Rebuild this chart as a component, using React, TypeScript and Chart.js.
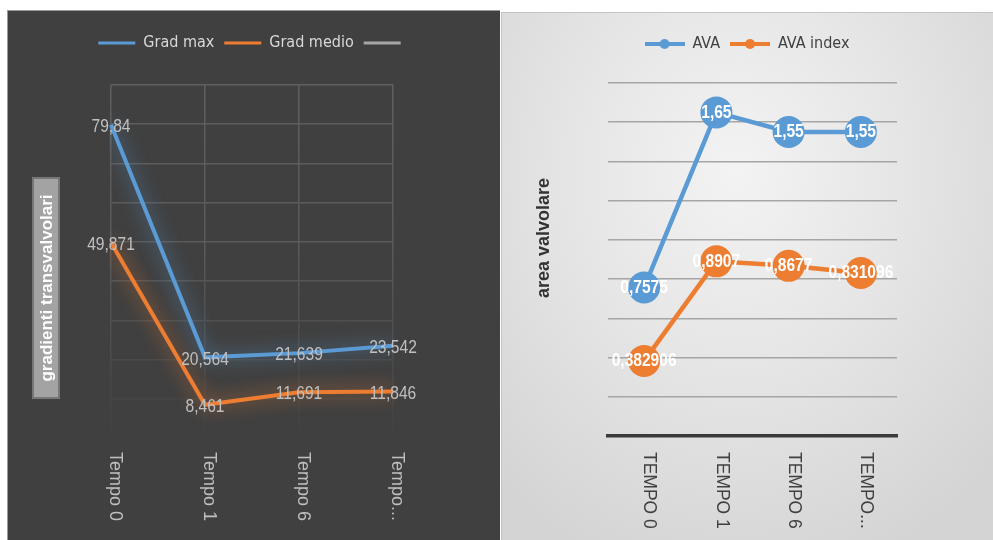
import React, { useEffect, useRef } from "react";
import { Chart, registerables } from "chart.js";

Chart.register(...registerables);

// ---- Gradienti transvalvolari ----
const gradCategories = ["Tempo 0", "Tempo 1", "Tempo 6", "Tempo..."];
const gradMax = [79.84, 20.564, 21.639, 23.542];
const gradMedio = [49.871, 8.461, 11.691, 11.846];
const gradThird: number[] = [];
const gradAxisMin = 0;
const gradAxisMax = 90;
const gradAxisStep = 10;

// ---- Area valvolare ----
const areaCategories = ["TEMPO 0", "TEMPO 1", "TEMPO 6", "TEMPO..."];
const ava = [0.7575, 1.65, 1.55, 1.55];
const avaIndex = [0.382906, 0.8907, 0.8677, 0.831096];
const areaAxisMin = 0;
const areaAxisMax = 1.8;
const areaAxisStep = 0.2;

const BLUE = "#5B9BD5";
const ORANGE = "#ED7D31";
const GRAY = "#A5A5A5";

const CONDENSED = '"DejaVu Sans Condensed", "Liberation Sans", sans-serif';
const REGULAR = '"Liberation Sans", Arial, sans-serif';

const fmt = (v: number) => String(v).replace(".", ",");

// Soft coloured halo behind each line
const glowPlugin = {
  id: "glow",
  beforeDatasetDraw(chart: any, args: any) {
    const ds = chart.data.datasets[args.index];
    const ctx = chart.ctx;
    ctx.save();
    if (ds.glowColor) {
      ctx.shadowColor = ds.glowColor;
      ctx.shadowBlur = 18;
    }
  },
  afterDatasetDraw(chart: any) {
    chart.ctx.restore();
  },
};

// Value labels centred on each point (squeezed horizontally for a narrow face)
const valueLabels = (font: string, color: string, dy: number, squeeze: number) => ({
  id: "valueLabels",
  afterDatasetsDraw(chart: any) {
    const ctx = chart.ctx;
    ctx.save();
    ctx.font = font;
    ctx.fillStyle = color;
    ctx.textAlign = "center";
    ctx.textBaseline = "middle";
    chart.data.datasets.forEach((ds: any, i: number) => {
      const meta = chart.getDatasetMeta(i);
      meta.data.forEach((el: any, j: number) => {
        const v = ds.data[j];
        if (v == null) return;
        ctx.save();
        ctx.translate(el.x, el.y + dy);
        ctx.scale(squeeze, 1);
        ctx.fillText(fmt(v), 0, 0);
        ctx.restore();
      });
    });
    ctx.restore();
  },
});

// Category labels written top-to-bottom under the axis
const verticalTicks = (font: string, color: string, dx: number, gap: number) => ({
  id: "verticalTicks",
  afterDraw(chart: any) {
    const ctx = chart.ctx;
    const xs = chart.scales.x;
    ctx.save();
    ctx.font = font;
    ctx.fillStyle = color;
    ctx.textAlign = "left";
    ctx.textBaseline = "middle";
    (chart.data.labels as string[]).forEach((lab, i) => {
      const px = xs.getPixelForValue(i);
      ctx.save();
      ctx.translate(px + dx, chart.chartArea.bottom + gap);
      ctx.rotate(Math.PI / 2);
      ctx.fillText(lab, 0, 0);
      ctx.restore();
    });
    ctx.restore();
  },
});

// Rotated axis title, optionally on a boxed background
const axisTitle = (
  text: string,
  cx: number,
  cy: number,
  font: string,
  color: string,
  box?: { w: number; h: number; fill: string; stroke: string }
) => ({
  id: "axisTitle",
  afterDraw(chart: any) {
    const ctx = chart.ctx;
    ctx.save();
    if (box) {
      ctx.fillStyle = box.fill;
      ctx.fillRect(cx - box.w / 2, cy - box.h / 2, box.w, box.h);
      ctx.strokeStyle = box.stroke;
      ctx.lineWidth = 2;
      ctx.strokeRect(cx - box.w / 2, cy - box.h / 2, box.w, box.h);
    }
    ctx.translate(cx, cy);
    ctx.rotate(-Math.PI / 2);
    ctx.font = font;
    ctx.fillStyle = color;
    ctx.textAlign = "center";
    ctx.textBaseline = "middle";
    ctx.fillText(text, 0, 1);
    ctx.restore();
  },
});

const spacer = (axis: "x" | "y", position: string, size: number) => ({
  axis,
  position,
  display: true,
  grid: { display: false, drawTicks: false },
  border: { display: false },
  ticks: { display: false },
  afterFit(s: any) {
    if (axis === "x") s.height = size;
    else s.width = size;
  },
});

function legendMarker(color: string) {
  const c = document.createElement("canvas");
  c.width = 40;
  c.height = 12;
  const g = c.getContext("2d")!;
  g.strokeStyle = color;
  g.lineWidth = 4;
  g.beginPath();
  g.moveTo(0, 6);
  g.lineTo(40, 6);
  g.stroke();
  g.fillStyle = color;
  g.beginPath();
  g.arc(20, 6, 5, 0, Math.PI * 2);
  g.fill();
  return c;
}

// Grid fades out towards the bottom of the plot
function gridGradient(c: any) {
  const chart = c.chart;
  const a = chart.chartArea;
  if (!a) return "#5c5c5c";
  const g = chart.ctx.createLinearGradient(0, a.top, 0, a.bottom);
  g.addColorStop(0, "#5f5f5f");
  g.addColorStop(0.45, "#5a5a5a");
  g.addColorStop(0.85, "#474747");
  g.addColorStop(1, "#414141");
  return g;
}

function GradientChart() {
  const ref = useRef<HTMLCanvasElement>(null);
  useEffect(() => {
    const chart = new Chart(ref.current!, {
      type: "line",
      data: {
        labels: gradCategories,
        datasets: [
          {
            label: "Grad max",
            data: gradMax,
            borderColor: BLUE,
            backgroundColor: BLUE,
            borderWidth: 4,
            pointRadius: 0,
            tension: 0,
            glowColor: "rgba(91,155,213,0.8)",
          } as any,
          {
            label: "Grad medio",
            data: gradMedio,
            borderColor: ORANGE,
            backgroundColor: ORANGE,
            borderWidth: 4,
            pointRadius: 0,
            tension: 0,
            glowColor: "rgba(237,125,49,0.8)",
          } as any,
          {
            label: "",
            data: gradThird,
            borderColor: GRAY,
            backgroundColor: GRAY,
            borderWidth: 4,
            pointRadius: 0,
          } as any,
        ],
      },
      options: {
        responsive: false,
        animation: false,
        layout: { padding: { top: 15, left: 0, right: 0, bottom: 0 } },
        plugins: {
          tooltip: { enabled: false },
          legend: {
            display: true,
            position: "top",
            labels: {
              color: "#d9d9d9",
              font: { family: CONDENSED, size: 16 },
              boxWidth: 37,
              boxHeight: 3,
              padding: 10,
              generateLabels(ch: any) {
                return Chart.defaults.plugins.legend.labels
                  .generateLabels(ch)
                  .map((it: any) => ({ ...it, fillStyle: it.strokeStyle, lineWidth: 0 }));
              },
            },
          },
        },
        scales: {
          x: {
            type: "category",
            offset: false,
            grid: {
              display: true,
              drawTicks: false,
              lineWidth: 1.5,
              color: gridGradient,
            },
            border: { display: false },
            ticks: { display: false },
            afterFit(s: any) {
              s.height = 102;
            },
          },
          y: {
            type: "linear",
            min: gradAxisMin,
            max: gradAxisMax,
            grid: {
              display: true,
              drawTicks: false,
              lineWidth: 1.5,
              color: gridGradient,
            },
            border: { display: false },
            ticks: { display: false, stepSize: gradAxisStep },
            afterFit(s: any) {
              s.width = 104;
            },
          },
          xTop: spacer("x", "top", 24) as any,
          yRight: spacer("y", "right", 107) as any,
        },
      },
      plugins: [
        glowPlugin,
        valueLabels(`19px ${REGULAR}`, "#c0c0c0", 2, 0.82),
        verticalTicks(`18px ${REGULAR}`, "#bfbfbf", 4, 14),
        axisTitle("gradienti transvalvolari", 39, 278, `bold 17px ${REGULAR}`, "#ffffff", {
          w: 26,
          h: 220,
          fill: "#a3a3a3",
          stroke: "#777777",
        }),
      ],
    } as any);
    return () => chart.destroy();
  }, []);
  return <canvas ref={ref} width={493} height={530} style={{ display: "block" }} />;
}

function AreaChart() {
  const ref = useRef<HTMLCanvasElement>(null);
  useEffect(() => {
    const markers: Record<string, HTMLCanvasElement> = {
      AVA: legendMarker(BLUE),
      "AVA index": legendMarker(ORANGE),
    };
    const chart = new Chart(ref.current!, {
      type: "line",
      data: {
        labels: areaCategories,
        datasets: [
          {
            label: "AVA",
            data: ava,
            borderColor: BLUE,
            backgroundColor: BLUE,
            borderWidth: 4.5,
            pointRadius: 16,
            pointBorderWidth: 0,
            pointBackgroundColor: BLUE,
            tension: 0,
          },
          {
            label: "AVA index",
            data: avaIndex,
            borderColor: ORANGE,
            backgroundColor: ORANGE,
            borderWidth: 4.5,
            pointRadius: 16,
            pointBorderWidth: 0,
            pointBackgroundColor: ORANGE,
            tension: 0,
          },
        ],
      },
      options: {
        responsive: false,
        animation: false,
        layout: { padding: { top: 14, left: 0, right: 0, bottom: 0 } },
        plugins: {
          tooltip: { enabled: false },
          legend: {
            display: true,
            position: "top",
            labels: {
              color: "#404040",
              font: { family: CONDENSED, size: 16 },
              usePointStyle: true,
              pointStyleWidth: 40,
              padding: 10,
              generateLabels(ch: any) {
                return Chart.defaults.plugins.legend.labels
                  .generateLabels(ch)
                  .map((it: any) => ({ ...it, pointStyle: markers[it.text] }));
              },
            },
          },
        },
        scales: {
          x: {
            type: "category",
            offset: true,
            grid: { display: false, drawTicks: false },
            border: { display: true, color: "#3a3a3a", width: 3.5 },
            ticks: { display: false },
            afterFit(s: any) {
              s.height = 104;
            },
          },
          y: {
            type: "linear",
            min: areaAxisMin,
            max: areaAxisMax,
            grid: {
              display: true,
              drawTicks: false,
              lineWidth: 1.5,
              color: (c: any) => (c.tick && c.tick.value === 0 ? "rgba(0,0,0,0)" : "#a6a6a6"),
            },
            border: { display: false },
            ticks: { display: false, stepSize: areaAxisStep },
            afterFit(s: any) {
              s.width = 107;
            },
          },
          xTop: spacer("x", "top", 21) as any,
          yRight: spacer("y", "right", 96) as any,
        },
      },
      plugins: [
        valueLabels(`bold 19px ${REGULAR}`, "#ffffff", 0, 0.82),
        verticalTicks(`17.5px ${REGULAR}`, "#404040", 5, 16),
        axisTitle("area valvolare", 42, 226, `bold 18px ${REGULAR}`, "#333333"),
      ],
    } as any);
    return () => chart.destroy();
  }, []);
  return <canvas ref={ref} width={492} height={528} style={{ display: "block" }} />;
}

export default function App() {
  return (
    <div style={{ position: "relative", width: 993, height: 540, overflow: "hidden" }}>
      <style>{`html,body{margin:0;padding:0;overflow:hidden;background:#ffffff}`}</style>
      <div
        style={{
          position: "absolute",
          left: 7,
          top: 10,
          width: 493,
          height: 530,
          background: "#404040",
          boxShadow: "inset 1px 1px 0 #9a9a9a",
        }}
      >
        <GradientChart />
      </div>
      <div
        style={{
          position: "absolute",
          left: 501,
          top: 12,
          width: 492,
          height: 528,
          background:
            "radial-gradient(ellipse 72% 80% at 48% 30%, #f3f3f3 0%, #e6e6e6 45%, #d4d4d4 100%)",
          boxShadow: "inset 1px 1px 0 #c4c4c4",
        }}
      >
        <AreaChart />
      </div>
    </div>
  );
}
